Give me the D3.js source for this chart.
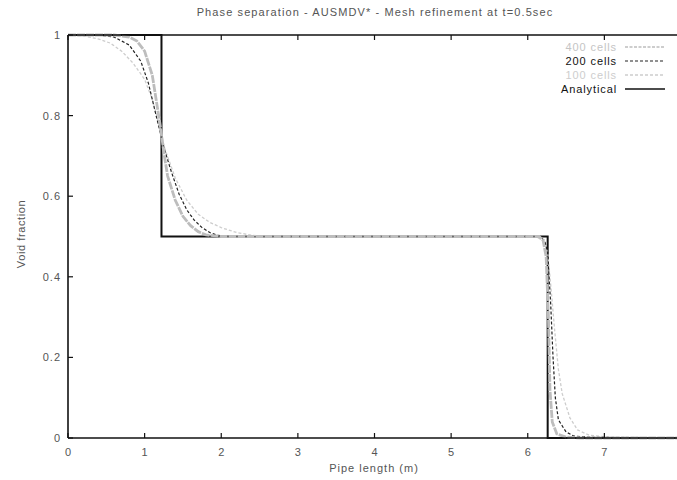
<!DOCTYPE html>
<html>
<head>
<meta charset="utf-8">
<script src="https://cdn.jsdelivr.net/npm/d3@7"></script>
<style>
  body { margin: 0; background: #fff; }
  text { font-family: "Liberation Sans", Arial, sans-serif; }
</style>
</head>
<body>
<svg id="chart" width="677" height="480"></svg>
<script>
// ---- data ----
var xTicks = [0, 1, 2, 3, 4, 5, 6, 7, 8];
var yTicks = [0, 0.2, 0.4, 0.6, 0.8, 1];

var analytical = [[0,1],[1.22,1],[1.22,0.5],[6.26,0.5],[6.26,0],[8,0]];

var cells400 = [[0,1],[0.6,1],[0.8,0.995],[0.9,0.985],[1.0,0.96],[1.1,0.9],[1.2,0.78],
  [1.25,0.71],[1.3,0.65],[1.4,0.59],[1.5,0.55],[1.6,0.527],[1.7,0.512],[1.8,0.504],
  [2.0,0.5],[6.15,0.5],[6.2,0.49],[6.24,0.45],[6.27,0.3],[6.29,0.12],[6.32,0.04],
  [6.38,0.01],[6.5,0.002],[6.7,0],[8,0]];

var cells200 = [[0,1],[0.4,1],[0.6,0.995],[0.8,0.975],[0.95,0.935],[1.05,0.88],[1.15,0.8],
  [1.26,0.715],[1.35,0.66],[1.45,0.605],[1.55,0.566],[1.65,0.54],[1.75,0.522],[1.85,0.51],
  [1.95,0.503],[2.1,0.5],[6.15,0.5],[6.22,0.49],[6.26,0.46],[6.3,0.33],[6.33,0.2],
  [6.36,0.1],[6.4,0.045],[6.5,0.015],[6.6,0.005],[6.8,0.002],[7.5,0],[8,0]];

var cells100 = [[0,1],[0.2,0.998],[0.4,0.99],[0.55,0.98],[0.7,0.96],[0.85,0.93],[1.0,0.89],
  [1.1,0.84],[1.2,0.77],[1.26,0.72],[1.4,0.645],[1.55,0.59],[1.7,0.555],[1.85,0.535],
  [2.0,0.522],[2.2,0.51],[2.4,0.503],[2.6,0.5],[6.1,0.5],[6.2,0.49],[6.26,0.46],[6.3,0.38],
  [6.35,0.27],[6.4,0.17],[6.45,0.11],[6.55,0.05],[6.65,0.02],[6.8,0.007],[7.0,0.003],
  [7.5,0.001],[8,0]];

var legendNames = ["400 cells", "200 cells", "100 cells", "Analytical"];

// ---- layout ----
var svg = d3.select("#chart");
var x = d3.scaleLinear().domain([0, 8]).range([68, 681]);
var y = d3.scaleLinear().domain([0, 1]).range([438, 35]);

var line = d3.line()
    .x(function (d) { return x(d[0]); })
    .y(function (d) { return y(d[1]); });

// series styles (draw order: analytical underneath, 400 cells on top)
var series = [
  {name: "Analytical", data: analytical, color: "#111", width: 2, dash: null},
  {name: "100 cells", data: cells100, color: "#cdcdcd", width: 1.3, dash: "3,2"},
  {name: "200 cells", data: cells200, color: "#222", width: 1.2, dash: "3,2"},
  {name: "400 cells", data: cells400, color: "#bdbdbd", width: 2.8, dash: "8,1"}
];

var plot = svg.append("g");
plot.append("defs").append("clipPath").attr("id", "clip")
  .append("rect").attr("x", 68).attr("y", 30).attr("width", 613).attr("height", 412);

plot.selectAll("path.series")
  .data(series)
  .enter().append("path")
    .attr("class", "series")
    .attr("clip-path", "url(#clip)")
    .attr("fill", "none")
    .attr("stroke", function (d) { return d.color; })
    .attr("stroke-width", function (d) { return d.width; })
    .attr("stroke-dasharray", function (d) { return d.dash; })
    .attr("d", function (d) { return line(d.data); });

// ---- frame & ticks (gnuplot style, ticks inside, mirrored on top) ----
var frame = svg.append("g").attr("stroke", "#111").attr("stroke-width", 1.6);
frame.append("line").attr("x1", x(0)).attr("x2", x(8)).attr("y1", y(0)).attr("y2", y(0));
frame.append("line").attr("x1", x(0)).attr("x2", x(8)).attr("y1", y(1)).attr("y2", y(1));
frame.append("line").attr("x1", x(0)).attr("x2", x(0)).attr("y1", y(0)).attr("y2", y(1));

var tick = svg.append("g").attr("stroke", "#111").attr("stroke-width", 1.2);
xTicks.forEach(function (t) {
  tick.append("line").attr("x1", x(t)).attr("x2", x(t)).attr("y1", y(0)).attr("y2", y(0) - 5);
  tick.append("line").attr("x1", x(t)).attr("x2", x(t)).attr("y1", y(1)).attr("y2", y(1) + 5);
});
yTicks.forEach(function (t) {
  tick.append("line").attr("x1", x(0)).attr("x2", x(0) + 5).attr("y1", y(t)).attr("y2", y(t));
});

svg.append("g").selectAll("text")
  .data(xTicks).enter().append("text")
    .attr("x", function (d) { return x(d); })
    .attr("y", 456)
    .attr("text-anchor", "middle")
    .attr("font-size", 11)
    .attr("fill", "#555")
    .text(function (d) { return d; });

svg.append("g").selectAll("text")
  .data(yTicks).enter().append("text")
    .attr("x", 61)
    .attr("y", function (d) { return y(d) + 4; })
    .attr("text-anchor", "end")
    .attr("font-size", 11)
    .attr("letter-spacing", 1)
    .attr("fill", "#555")
    .text(function (d) { return d; });

// ---- titles ----
svg.append("text")
  .attr("x", 375).attr("y", 16)
  .attr("text-anchor", "middle")
  .attr("font-size", 11)
  .attr("letter-spacing", 1.1)
  .attr("fill", "#555")
  .text("Phase separation - AUSMDV* - Mesh refinement at t=0.5sec");

svg.append("text")
  .attr("x", 374).attr("y", 472)
  .attr("text-anchor", "middle")
  .attr("font-size", 11)
  .attr("letter-spacing", 1)
  .attr("fill", "#555")
  .text("Pipe length (m)");

svg.append("text")
  .attr("transform", "translate(25,234) rotate(-90)")
  .attr("text-anchor", "middle")
  .attr("font-size", 11)
  .attr("letter-spacing", 0.6)
  .attr("fill", "#555")
  .text("Void fraction");

// ---- legend ----
var legendStyle = {
  "400 cells": {text: "#c4c4c4", color: "#bdbdbd", width: 1.5, dash: "3,1.5"},
  "200 cells": {text: "#111", color: "#222", width: 1.2, dash: "3,2"},
  "100 cells": {text: "#cdcdcd", color: "#cdcdcd", width: 1.3, dash: "3,2"},
  "Analytical": {text: "#111", color: "#111", width: 1.6, dash: null}
};
var legendY = d3.scalePoint().domain(legendNames).range([47, 89]);

var leg = svg.append("g").selectAll("g")
  .data(legendNames).enter().append("g")
    .attr("transform", function (d) { return "translate(0," + legendY(d) + ")"; });
leg.append("text")
  .attr("x", 617).attr("y", 4)
  .attr("text-anchor", "end")
  .attr("font-size", 11)
  .attr("letter-spacing", 0.9)
  .attr("fill", function (d) { return legendStyle[d].text; })
  .text(function (d) { return d; });
leg.append("line")
  .attr("x1", 625).attr("x2", 665)
  .attr("stroke", function (d) { return legendStyle[d].color; })
  .attr("stroke-width", function (d) { return legendStyle[d].width; })
  .attr("stroke-dasharray", function (d) { return legendStyle[d].dash; });
</script>
</body>
</html>
